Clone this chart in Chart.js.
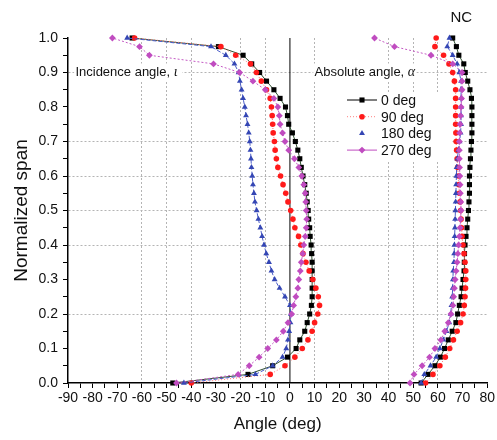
<!DOCTYPE html>
<html>
<head>
<meta charset="utf-8">
<script src="https://cdn.jsdelivr.net/npm/chart.js@4/dist/chart.umd.min.js"></script>
<style>
  html, body { margin: 0; padding: 0; background: #fff; }
</style>
</head>
<body>
<canvas id="grafico" width="497" height="440"></canvas>
<script>
// valores
const series = ['0 deg', '90 deg', '180 deg', '270 deg'];

const spanNormalizado = [0, 0.025, 0.05, 0.075, 0.1, 0.125, 0.15, 0.175, 0.2, 0.225,
  0.25, 0.275, 0.3, 0.325, 0.35, 0.375, 0.4, 0.425, 0.45, 0.475,
  0.5, 0.525, 0.55, 0.575, 0.6, 0.625, 0.65, 0.675, 0.7, 0.725,
  0.75, 0.775, 0.8, 0.825, 0.85, 0.875, 0.9, 0.925, 0.95, 0.975, 1.0];

// angulo de incidencia (rama izquierda)
const incidencia0 = [-47.5, -17, -7, -1, 2.5, 4, 6, 7, 8, 8.7, 9, 9, 9, 9, 9, 8.8, 8.6, 8.2, 8, 7.6,
  7.4, 7, 6.6, 6, 5.3, 4.6, 4, 3.2, 2.2, 1, -0.5, -1, -1.8, -4, -6.5, -9.5, -12.3, -15.5, -19, -29, -64];
const incidencia90 = [-40, -8, -2, 2, 5, 7.3, 9, 10, 11.3, 12, 11.5, 10.5, 9.3, 7.8, 6.5, 5.3, 4.4, 3.5, 2, 1.2,
  0.3, -0.8, -1.7, -2.8, -3.8, -4.9, -5.5, -6, -6.3, -6.8, -7, -7.2, -7.5, -8, -9.5, -11.6, -13.6, -16, -22, -28, -63];
const incidencia180 = [-43, -14, -7, -3, -1.5, -0.8, -0.3, 0.2, 0.4, 0, -2, -4.2, -6.2, -7.5, -8.5, -9.6, -10.5, -11.3, -12, -12.8,
  -13.5, -14.2, -14.6, -15, -15.3, -15.6, -15.8, -16, -16.3, -16.7, -17.2, -17.8, -18.3, -19, -19.6, -20.3, -20.8, -22.5, -26, -32, -66];
const incidencia270 = [-46, -21, -16.5, -12.5, -9, -5.5, -2.7, -0.8, 0.7, 1.5, 2.4, 3.2, 3.6, 4.2, 4.6, 5.2, 5.6, 6.2, 6.6, 6.8,
  6.6, 6.4, 6.2, 5.6, 4.8, 3.6, 1.8, -0.5, -2, -3, -4, -4.3, -4.9, -6.5, -10, -15, -20.4, -31, -57, -61, -72];

// angulo absoluto (rama derecha)
const absoluto0 = [53.2, 56, 58.8, 61, 62.7, 64.2, 65.8, 67.3, 68, 68.7, 69.4, 69.8, 70.2, 70.6, 70.7, 70.8, 71, 71.4, 71.8, 72.1,
  72.4, 72.6, 72.8, 72.8, 72.8, 73, 73.2, 73.4, 73.6, 73.8, 73.8, 73.8, 73.8, 73.6, 73, 72.1, 71.1, 70.5, 68.5, 67.5, 66];
const absoluto90 = [55, 58, 60.8, 63, 64.8, 66.3, 67.8, 69.2, 70.2, 70.7, 71, 71.2, 71.3, 71.3, 71, 70.6, 70.2, 69.8, 69.6, 69.4,
  69.2, 69, 68.7, 68.5, 68.3, 68, 67.8, 67.6, 67.4, 67.3, 67.2, 67.2, 67.2, 67.2, 67.2, 66.7, 66, 64.5, 62.3, 58.8, 59.3];
const absoluto180 = [53.2, 54.5, 57, 59.3, 60.8, 62.2, 63.5, 64.6, 65.2, 65.5, 65.8, 66, 66.1, 66.2, 66.5, 66.6, 66.7, 66.8, 66.9, 67,
  67.1, 67.2, 67.3, 67.4, 67.5, 67.6, 67.9, 68.3, 68.8, 69.2, 69.4, 69.4, 69.4, 69.4, 69.4, 69.4, 68.7, 67.8, 66, 63.8, 64.7];
const absoluto270 = [48.7, 50.3, 53.6, 56.6, 58.8, 61.2, 62.8, 64.2, 65.3, 66.1, 66.4, 66.7, 67, 67.4, 67.8, 68.1, 68.4, 68.7, 69, 69.2,
  69.4, 69.3, 69.1, 69, 68.9, 68.8, 68.7, 68.7, 68.7, 68.8, 69, 69.2, 69.4, 69.6, 69.8, 69.8, 69.8, 66, 57.2, 42.4, 34.3];

const incidencias = [incidencia0, incidencia90, incidencia180, incidencia270];
const absolutos = [absoluto0, absoluto90, absoluto180, absoluto270];

// estilo de cada serie
const estilos = [
  { color: '#000000', linea: '#2f4f2f', dash: [], forma: 'rect', radio: 3.6, leyenda: '#000000', dashLeyenda: [] },
  { color: '#ff1a1a', linea: '#ff7070', dash: [1, 2], forma: 'circle', radio: 2.8, leyenda: '#ff8080', dashLeyenda: [1, 2] },
  { color: '#3446b4', linea: '#4a5cc8', dash: [4, 2], forma: 'triangle', radio: 3.4, leyenda: null, dashLeyenda: [] },
  { color: '#c04cc0', linea: '#c45ac4', dash: [2, 2], forma: 'rectRot', radio: 3.4, leyenda: '#c04cc0', dashLeyenda: [] }
];

const gridX = [-60, -50, -40, -20, -10, 10, 40, 50, 60];
const gridY = [0.2, 0.4, 0.5, 0.6, 0.7, 0.9];

Chart.defaults.font.family = 'Arial, "Liberation Sans", sans-serif';
Chart.defaults.color = '#111';

let conjuntos = [];
series.forEach((nombre, i) => {
  const e = estilos[i];
  [incidencias[i], absolutos[i]].forEach(angulos => {
    conjuntos.push({
      label: nombre,
      data: spanNormalizado.map((s, k) => ({ x: angulos[k], y: s })),
      showLine: true,
      borderColor: e.linea,
      borderWidth: 1,
      borderDash: e.dash,
      pointStyle: e.forma,
      pointRadius: e.radio,
      pointBackgroundColor: e.color,
      pointBorderColor: e.color,
      pointBorderWidth: 0,
      clip: false,
      order: 4 - i
    });
  });
});
// linea vertical en 0 grados
conjuntos.push({
  label: 'cero',
  data: [{ x: 0, y: 0 }, { x: 0, y: 1 }],
  showLine: true,
  borderColor: '#000',
  borderWidth: 1,
  pointRadius: 0,
  order: 10
});

function marcador(ctx, forma, x, y, r, color) {
  ctx.fillStyle = color;
  ctx.beginPath();
  if (forma === 'rect') {
    const s = r * Math.SQRT1_2;
    ctx.rect(x - s, y - s, 2 * s, 2 * s);
  } else if (forma === 'circle') {
    ctx.arc(x, y, r, 0, Math.PI * 2);
  } else if (forma === 'triangle') {
    ctx.moveTo(x, y - r);
    ctx.lineTo(x + r * 0.87, y + r * 0.5);
    ctx.lineTo(x - r * 0.87, y + r * 0.5);
    ctx.closePath();
  } else {
    ctx.moveTo(x, y - r);
    ctx.lineTo(x + r, y);
    ctx.lineTo(x, y + r);
    ctx.lineTo(x - r, y);
    ctx.closePath();
  }
  ctx.fill();
}

const anotaciones = {
  id: 'anotaciones',
  beforeDatasetsDraw(chart) {
    const { ctx, chartArea: a, scales: { x, y } } = chart;
    const yt = y.getPixelForValue(0.9);
    ctx.save();
    ctx.fillStyle = '#fff';
    ctx.fillRect(x.getPixelForValue(-87.5), yt - 9, 108, 18);
    ctx.fillRect(x.getPixelForValue(9.5), yt - 9, 103, 18);
    ctx.fillRect(a.left + 272, a.top + 54, 112, 68);
    ctx.restore();
  },
  afterDatasetsDraw(chart) {
    const { ctx, chartArea: a, scales: { x, y } } = chart;
    const yt = y.getPixelForValue(0.9);
    ctx.save();
    ctx.textBaseline = 'middle';
    ctx.fillStyle = '#111';

    // rotulos de las ramas
    ctx.font = '13px Arial, "Liberation Sans", sans-serif';
    let x1 = x.getPixelForValue(-87);
    ctx.fillText('Incidence angle, ', x1, yt);
    let w = ctx.measureText('Incidence angle, ').width;
    ctx.font = 'italic 14px "Liberation Serif", "DejaVu Serif", serif';
    ctx.fillText('ι', x1 + w, yt);

    ctx.font = '13px Arial, "Liberation Sans", sans-serif';
    let x2 = x.getPixelForValue(10);
    ctx.fillText('Absolute angle, ', x2, yt);
    w = ctx.measureText('Absolute angle, ').width;
    ctx.font = 'italic 14px "Liberation Serif", "DejaVu Serif", serif';
    ctx.fillText('α', x2 + w, yt);

    // NC
    ctx.font = '15px Arial, "Liberation Sans", sans-serif';
    ctx.textAlign = 'center';
    ctx.fillText('NC', a.right - 26, 18);
    ctx.textAlign = 'left';

    // leyenda
    ctx.font = '14px Arial, "Liberation Sans", sans-serif';
    const lx = a.left + 279;
    series.forEach((nombre, i) => {
      const e = estilos[i];
      const ly = a.top + 62 + i * 16.7;
      if (e.leyenda) {
        ctx.strokeStyle = e.leyenda;
        ctx.lineWidth = 1;
        ctx.setLineDash(e.dashLeyenda);
        ctx.beginPath();
        ctx.moveTo(lx, ly);
        ctx.lineTo(lx + 30, ly);
        ctx.stroke();
        ctx.setLineDash([]);
      }
      marcador(ctx, e.forma, lx + 15, ly, e.radio, e.color);
      ctx.fillStyle = '#111';
      ctx.fillText(nombre, lx + 34, ly + 1);
    });
    ctx.restore();
  }
};

const esGrid = (lista, v) => lista.some(g => Math.abs(g - v) < 1e-6);

let chart = new Chart(document.getElementById('grafico').getContext('2d'), {
  type: 'scatter',
  data: { datasets: conjuntos },
  options: {
    responsive: false,
    animation: false,
    layout: { padding: { top: 38, right: 9, left: 0, bottom: 0 } },
    plugins: {
      legend: { display: false },
      tooltip: { enabled: false }
    },
    scales: {
      x: {
        type: 'linear',
        min: -90,
        max: 80,
        afterFit: s => { s.height = 57; },
        ticks: {
          stepSize: 5,
          autoSkip: false,
          maxRotation: 0,
          padding: 2,
          font: { size: 14 },
          callback: v => (v % 10 === 0 ? String(v) : '')
        },
        grid: {
          color: c => (c.tick && esGrid(gridX, c.tick.value) ? '#b4b4b4' : 'rgba(0,0,0,0)'),
          tickColor: '#000',
          tickLength: 5
        },
        border: { color: '#000', width: 1.5, dash: [2, 2] },
        title: {
          display: true,
          text: 'Angle (deg)',
          font: { size: 17 },
          padding: { top: 0, bottom: 5 }
        }
      },
      y: {
        type: 'linear',
        min: 0,
        max: 1,
        afterFit: s => { s.width = 68; },
        ticks: {
          stepSize: 0.05,
          autoSkip: false,
          padding: 5,
          font: { size: 14 },
          callback: v => (Math.round(v * 100) % 10 === 0 ? v.toFixed(1) : '')
        },
        grid: {
          color: c => (c.tick && esGrid(gridY, c.tick.value) ? '#b4b4b4' : 'rgba(0,0,0,0)'),
          tickColor: '#000',
          tickLength: 5
        },
        border: { color: '#000', width: 1.5, dash: [2, 2] },
        title: {
          display: true,
          text: 'Normalized span',
          font: { size: 19 },
          padding: { top: 10, bottom: 0 }
        }
      }
    }
  },
  plugins: [anotaciones]
});
</script>
</body>
</html>
